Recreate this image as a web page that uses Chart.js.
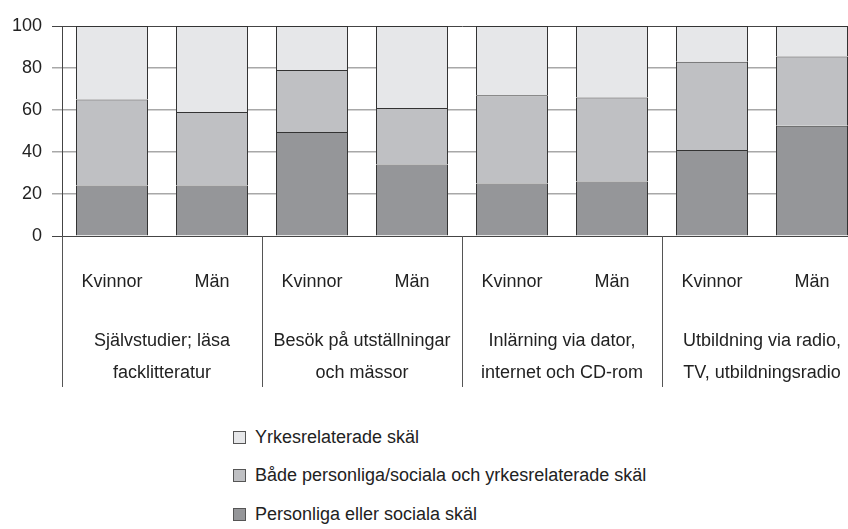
<!DOCTYPE html>
<html lang="sv">
<head>
<meta charset="utf-8">
<script src="https://cdn.jsdelivr.net/npm/chart.js@4.4.1/dist/chart.umd.min.js"></script>
<style>
  html, body { margin: 0; padding: 0; background: #fff; overflow: hidden; width: 848px; height: 529px; }
  #wrap { position: relative; width: 848px; height: 529px; overflow: hidden; }
  #chart { position: absolute; left: 0; top: 0; }
  #legend { position: absolute; left: 233px; top: 418px; font-family: "Liberation Sans", Arial, sans-serif; font-size: 18px; color: #222; }
  .row { height: 38.5px; display: flex; align-items: center; }
  .box { width: 13px; height: 13px; border: 1px solid #555; margin-right: 9px; box-sizing: border-box; }
</style>
</head>
<body>
<div id="wrap">
  <canvas id="chart" width="870" height="400"></canvas>
  <div id="legend"></div>
</div>
<script>
// Kategorier (kön) och grupper (studieform)
const kon = ['Kvinnor', 'Män', 'Kvinnor', 'Män', 'Kvinnor', 'Män', 'Kvinnor', 'Män'];
const grupper = [
  ['Självstudier; läsa', 'facklitteratur'],
  ['Besök på utställningar', 'och mässor'],
  ['Inlärning via dator,', 'internet och CD-rom'],
  ['Utbildning via radio,', 'TV, utbildningsradio']
];

// Andelar (%) per skäl
const personliga = [24, 24, 49.5, 34, 25, 26, 41, 52.5];
const bade = [41, 35, 29.5, 27, 42, 40, 42, 33];
const yrkes = [35, 41, 21, 39, 33, 34, 17, 14.5];

const yTicks = [0, 20, 40, 60, 80, 100];

const serier = [
  { label: 'Personliga eller sociala skäl', data: personliga, color: '#959699' },
  { label: 'Både personliga/sociala och yrkesrelaterade skäl', data: bade, color: '#bfc0c3' },
  { label: 'Yrkesrelaterade skäl', data: yrkes, color: '#e6e7e9' }
];

const font = "'Liberation Sans', Arial, sans-serif";

// Avgränsare och grupptexter under x-axeln
const gruppPlugin = {
  id: 'grupper',
  afterDraw(chart) {
    const ctx = chart.ctx;
    const x = chart.scales.x;
    const bottom = chart.chartArea.bottom;
    const step = (x.right - x.left) / kon.length;
    ctx.save();
    ctx.strokeStyle = '#555';
    ctx.lineWidth = 1;
    for (let g = 0; g <= grupper.length; g++) {
      const px = Math.round(x.left + g * 2 * step) + 0.5;
      ctx.beginPath();
      ctx.moveTo(px, bottom);
      ctx.lineTo(px, 387);
      ctx.stroke();
    }
    ctx.fillStyle = '#222';
    ctx.font = '18px ' + font;
    ctx.textAlign = 'center';
    ctx.textBaseline = 'middle';
    grupper.forEach((rader, g) => {
      const cx = x.left + (g * 2 + 1) * step;
      rader.forEach((t, i) => ctx.fillText(t, cx, 341 + i * 32));
    });
    ctx.restore();
  }
};

new Chart(document.getElementById('chart'), {
  type: 'bar',
  data: {
    labels: kon,
    datasets: serier.map(s => ({
      label: s.label,
      data: s.data,
      backgroundColor: s.color,
      borderColor: '#333',
      borderWidth: 1,
      barPercentage: 0.72,
      categoryPercentage: 1
    }))
  },
  options: {
    responsive: false,
    animation: false,
    layout: { padding: { top: 26, right: 8, left: 0, bottom: 0 } },
    plugins: {
      legend: { display: false },
      tooltip: { enabled: false }
    },
    scales: {
      x: {
        stacked: true,
        grid: { display: false },
        border: { color: '#444', width: 1 },
        ticks: { color: '#222', font: { family: font, size: 18 }, padding: 27, maxRotation: 0 },
        afterFit: s => { s.height = 164; }
      },
      y: {
        stacked: true,
        min: 0,
        max: 100,
        afterBuildTicks: s => { s.ticks = yTicks.map(v => ({ value: v })); },
        grid: {
          color: c => (c.tick.value === 0 || c.tick.value === 100) ? '#444' : '#a8a8a8',
          lineWidth: c => (c.tick.value === 0 || c.tick.value === 100) ? 1 : 1.5,
          tickLength: 10
        },
        border: { color: '#444', width: 1 },
        ticks: { color: '#222', font: { family: font, size: 18 }, padding: 10 },
        afterFit: s => { s.width = 62; }
      }
    }
  },
  plugins: [gruppPlugin]
});

// Legend i omvänd ordning
const legend = document.getElementById('legend');
serier.slice().reverse().forEach(s => {
  const row = document.createElement('div');
  row.className = 'row';
  const box = document.createElement('span');
  box.className = 'box';
  box.style.background = s.color;
  row.appendChild(box);
  row.appendChild(document.createTextNode(s.label));
  legend.appendChild(row);
});
</script>
</body>
</html>
